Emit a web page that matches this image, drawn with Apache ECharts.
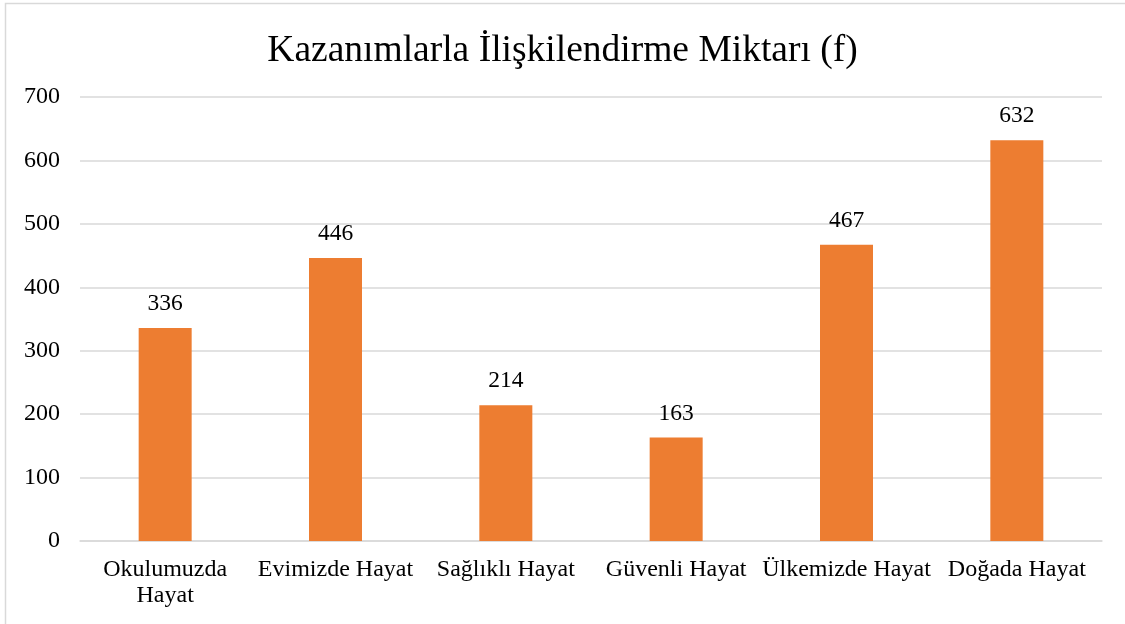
<!DOCTYPE html>
<html>
<head>
<meta charset="utf-8">
<title>Kazanımlarla İlişkilendirme Miktarı</title>
<script src="https://cdn.jsdelivr.net/npm/echarts@6/dist/echarts.min.js"></script>
<style>
  html, body { margin: 0; padding: 0; background: #fff; }
  #chart { width: 1125px; height: 624px; }
</style>
</head>
<body>
<div id="chart"></div>
<script>
// veriler
const categories = ['Okulumuzda Hayat', 'Evimizde Hayat', 'Sağlıklı Hayat', 'Güvenli Hayat', 'Ülkemizde Hayat', 'Doğada Hayat'];
const values = [336, 446, 214, 163, 467, 632];
const titleText = 'Kazanımlarla İlişkilendirme Miktarı (f)';

const serif = '"Liberation Serif", "Times New Roman", serif';

const chart = echarts.init(document.getElementById('chart'));

const option = {
  backgroundColor: '#fff',
  animation: false,
  title: {
    text: titleText,
    left: 'center',
    top: 27,
    textStyle: {
      fontFamily: serif,
      fontSize: 37.5,
      fontWeight: 'normal',
      color: '#000'
    }
  },
  // çerçeve (sadece sol ve üst kenar görünür)
  graphic: [{
    type: 'rect',
    shape: { x: 5.5, y: 3.5, width: 1300, height: 800 },
    style: { fill: 'none', stroke: '#d9d9d9', lineWidth: 1.5 },
    silent: true
  }],
  grid: {
    left: 80,
    right: 23,
    top: 97,
    bottom: 83
  },
  xAxis: {
    type: 'category',
    data: categories,
    axisTick: { show: false },
    axisLine: { lineStyle: { color: '#d9d9d9', width: 1.5 } },
    axisLabel: {
      fontFamily: serif,
      fontSize: 24,
      color: '#000',
      margin: 16,
      lineHeight: 26,
      interval: 0,
      // uzun etiket iki satıra bölünür
      formatter: v => (v.length > 15 ? v.replace(' ', '\n') : v)
    }
  },
  yAxis: {
    type: 'value',
    min: 0,
    max: 700,
    interval: 100,
    axisLine: { show: false },
    axisTick: { show: false },
    splitLine: { lineStyle: { color: '#d9d9d9', width: 1.5 } },
    axisLabel: {
      fontFamily: serif,
      fontSize: 24,
      color: '#000',
      margin: 20
    }
  },
  series: [{
    type: 'bar',
    data: values,
    barWidth: 53,
    itemStyle: { color: '#ED7D31' },
    label: {
      show: true,
      position: 'top',
      distance: 12,
      fontFamily: serif,
      fontSize: 23.5,
      color: '#000'
    }
  }]
};

chart.setOption(option);
</script>
</body>
</html>
